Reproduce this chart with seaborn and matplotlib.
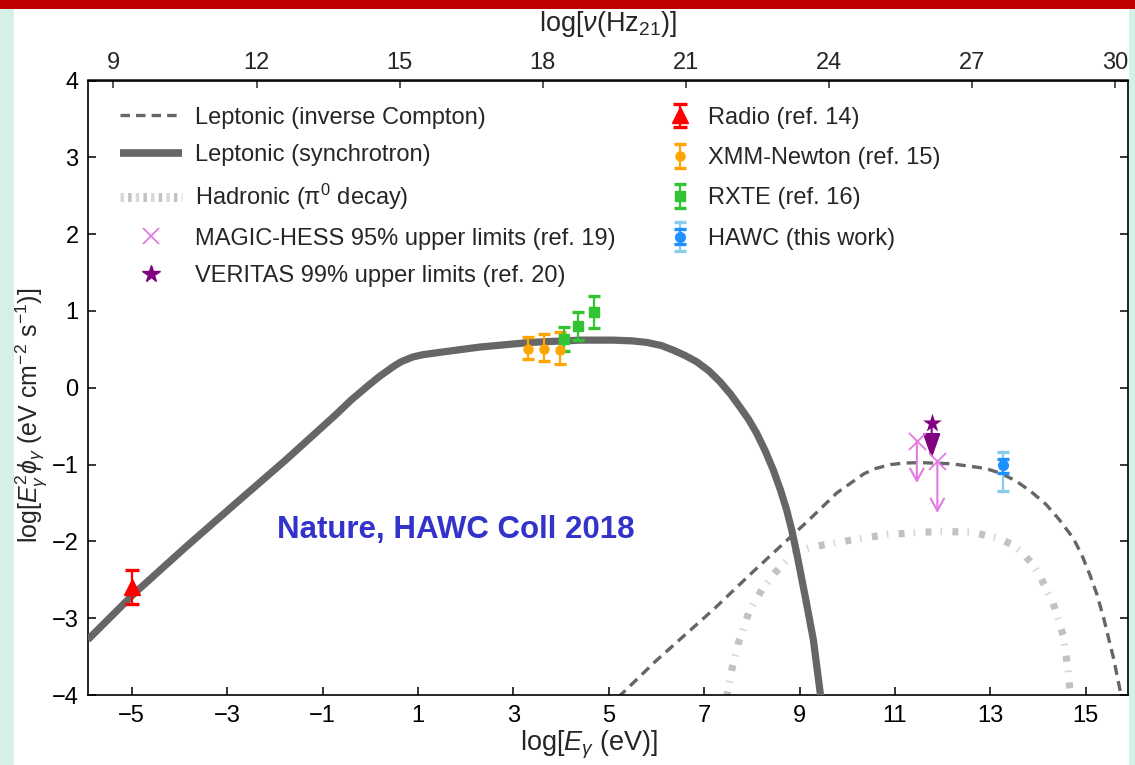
import numpy as np
import pandas as pd
import matplotlib
matplotlib.use("Agg")
import matplotlib.pyplot as plt
import seaborn as sns
from matplotlib.patches import Rectangle
from matplotlib.lines import Line2D
from matplotlib.legend_handler import HandlerTuple, HandlerErrorbar

# ---------------- data ----------------
syn_x = [-5.92, -4.95, -3.86, -2.81, -1.77, -0.72, -0.40, -0.02, 0.20, 0.47, 0.65, 0.89,
         1.10, 1.45, 2.30, 3.35, 4.40, 5.10, 5.50, 5.80, 6.10, 6.35, 6.60, 6.84, 7.10,
         7.33, 7.55, 7.75, 7.93, 8.10, 8.28, 8.45, 8.60, 8.73, 8.84, 8.94, 9.12, 9.29, 9.45]
syn_y = [-3.28, -2.68, -2.07, -1.50, -0.94, -0.35, -0.16, 0.04, 0.15, 0.27, 0.34, 0.40,
         0.43, 0.46, 0.53, 0.59, 0.62, 0.62, 0.61, 0.59, 0.55, 0.49, 0.42, 0.34, 0.22,
         0.08, -0.08, -0.25, -0.41, -0.59, -0.82, -1.07, -1.33, -1.59, -1.86, -2.15,
         -2.72, -3.28, -4.05]

ic_x = [5.20, 6.00, 7.19, 8.00, 8.59, 9.20, 9.78, 10.35, 10.60, 10.91, 11.20, 11.55,
        12.19, 12.90, 13.20, 13.53, 13.85, 14.17, 14.45, 14.74, 14.92, 15.09, 15.24,
        15.38, 15.59, 15.75]
ic_y = [-4.03, -3.55, -2.89, -2.41, -2.07, -1.72, -1.37, -1.12, -1.05, -1.00, -0.98,
        -0.975, -0.99, -1.05, -1.11, -1.21, -1.35, -1.52, -1.72, -1.96, -2.18, -2.44,
        -2.70, -3.01, -3.54, -4.03]

had_x = [7.47, 7.58, 7.72, 7.94, 8.22, 8.50, 8.79, 9.00, 9.21, 9.92, 10.84, 11.91,
         12.61, 13.18, 13.45, 13.68, 13.90, 14.03, 14.31, 14.53, 14.63, 14.68]
had_y = [-4.03, -3.67, -3.32, -2.92, -2.62, -2.40, -2.20, -2.13, -2.08, -2.00, -1.91,
         -1.87, -1.88, -1.96, -2.04, -2.15, -2.31, -2.44, -2.79, -3.23, -3.67, -4.03]

radio_x = [-5.0]
radio_y = [-2.59]
radio_lo = [-2.82]
radio_hi = [-2.37]

xmm_x = [3.30, 3.65, 3.98]
xmm_y = [0.50, 0.50, 0.49]
xmm_lo = [0.38, 0.35, 0.31]
xmm_hi = [0.665, 0.70, 0.73]

rxte_x = [4.07, 4.36, 4.70]
rxte_y = [0.635, 0.81, 0.98]
rxte_lo = [0.48, 0.62, 0.775]
rxte_hi = [0.79, 0.99, 1.20]

hawc_x = [13.26]
hawc_y = [-1.01]
hawc_stat_lo = [-1.11]
hawc_stat_hi = [-0.93]
hawc_sys_lo = [-1.35]
hawc_sys_hi = [-0.83]

magic_x = [11.46, 11.89]
magic_y = [-0.69, -0.95]
magic_end = [-1.24, -1.63]

veritas_x = [11.77]
veritas_y = [-0.46]
veritas_end = [-0.92]

bottom_ticks = [-5, -3, -1, 1, 3, 5, 7, 9, 11, 13, 15]
top_ticks = [9, 12, 15, 18, 21, 24, 27, 30]
y_ticks = [-4, -3, -2, -1, 0, 1, 2, 3, 4]
LOG_NU_OFFSET = 14.383  # log10(nu/Hz) = log10(E/eV) + 14.383

# ---------------- style ----------------
sns.set_theme(style="ticks")
plt.rcParams["font.family"] = ["Liberation Sans", "DejaVu Sans"]
plt.rcParams["mathtext.fontset"] = "custom"
plt.rcParams["mathtext.rm"] = "Liberation Sans"
plt.rcParams["mathtext.it"] = "Liberation Sans:italic"
plt.rcParams["mathtext.bf"] = "Liberation Sans:bold"
plt.rcParams["lines.scale_dashes"] = False
plt.rcParams["axes.unicode_minus"] = True

FS = 17
LFS = 19.5

W, H = 1135, 765
fig = plt.figure(figsize=(W / 100, H / 100), dpi=100)
fig.patch.set_facecolor("#d5f0e6")
fig.add_artist(Rectangle((14 / W, 0), (1129 - 14) / W, 1 - 9 / H,
                         transform=fig.transFigure, facecolor="white",
                         edgecolor="none", zorder=-10))
fig.add_artist(Rectangle((0, 1 - 9 / H), 1, 9 / H, transform=fig.transFigure,
                         facecolor="#c00000", edgecolor="none", zorder=-9))

ax_l, ax_r, ax_t, ax_b = 88.3, 1127.7, 80.5, 695.0
ax = fig.add_axes([ax_l / W, 1 - ax_b / H, (ax_r - ax_l) / W, (ax_b - ax_t) / H])
ax.set_facecolor("white")

# ---------------- model curves ----------------
GRAY = "#666666"
HAD_DARK = "#c2c2c2"
HAD_LIGHT = "#d8d8d8"
sns.lineplot(x=syn_x, y=syn_y, ax=ax, color=GRAY, lw=5.2, sort=False,
             solid_capstyle="butt", solid_joinstyle="round", zorder=3)
sns.lineplot(x=ic_x, y=ic_y, ax=ax, color=GRAY, lw=2.4, sort=False,
             linestyle=(0, (7.2, 4.6)), zorder=2)
# hadronic: thick light-gray blocks with thin ticks in between
sns.lineplot(x=had_x, y=had_y, ax=ax, color=HAD_DARK, lw=5.2, sort=False,
             linestyle=(0, (4.3, 15.1)), zorder=2)
sns.lineplot(x=had_x, y=had_y, ax=ax, color=HAD_LIGHT, lw=5.2, sort=False,
             linestyle=(8.6, (1.2, 18.2)), zorder=2)

# ---------------- data points ----------------
def asym(y, lo, hi):
    y = np.asarray(y); return [y - np.asarray(lo), np.asarray(hi) - y]

eb_kw = dict(linestyle="none", elinewidth=1.6, capthick=2.4, zorder=5)
radio = ax.errorbar(radio_x, radio_y, yerr=asym(radio_y, radio_lo, radio_hi),
                    fmt="^", color="#ff0000", ms=11, capsize=5, **eb_kw)
xmm = ax.errorbar(xmm_x, xmm_y, yerr=asym(xmm_y, xmm_lo, xmm_hi),
                  fmt="o", color="#ffa500", ms=6.5, capsize=4.3, **eb_kw)
rxte = ax.errorbar(rxte_x, rxte_y, yerr=asym(rxte_y, rxte_lo, rxte_hi),
                   fmt="s", color="#33c433", ms=7.5, capsize=4.3, **eb_kw)
hawc_sys = ax.errorbar(hawc_x, hawc_y, yerr=asym(hawc_y, hawc_sys_lo, hawc_sys_hi),
                       fmt="none", ecolor="#87ceeb", capsize=4.3, **eb_kw)
hawc_stat = ax.errorbar(hawc_x, hawc_y, yerr=asym(hawc_y, hawc_stat_lo, hawc_stat_hi),
                        fmt="o", color="#1e90ff", ms=7, capsize=4.3, **eb_kw)

MAGIC_C = "#e27ae2"
VER_C = "#800080"
for x0, y0, y1 in zip(magic_x, magic_y, magic_end):
    ax.annotate("", xy=(x0, y1), xytext=(x0, y0),
                arrowprops=dict(arrowstyle="->,head_length=0.55,head_width=0.3",
                                color=MAGIC_C, lw=1.5, mutation_scale=16,
                                shrinkA=0, shrinkB=0), zorder=6)
for x0, y0, y1 in zip(veritas_x, veritas_y, veritas_end):
    ax.annotate("", xy=(x0, y1), xytext=(x0, y0),
                arrowprops=dict(arrowstyle="-|>,head_length=0.9,head_width=0.32",
                                color=VER_C, lw=1.5, mutation_scale=17,
                                shrinkA=0, shrinkB=0), zorder=6)
sns.scatterplot(x=magic_x, y=magic_y, ax=ax, marker="x", s=150, color=MAGIC_C,
                linewidth=1.3, zorder=7)
sns.scatterplot(x=veritas_x, y=veritas_y, ax=ax, marker="*", s=200, color=VER_C,
                linewidth=0, zorder=7)

# ---------------- text annotation ----------------
ax.text(1.80, -1.85, "Nature, HAWC Coll 2018", color="#3333cc", fontsize=22.5,
        fontweight="bold", ha="center", va="center", zorder=8)

# ---------------- axes ----------------
ax.set_xlim(-5.91, 15.88)
ax.set_ylim(-4, 4)
ax.set_xticks(bottom_ticks)
ax.set_yticks(y_ticks)
ax.tick_params(axis="both", which="major", direction="in", length=6, width=1.1,
               labelsize=FS, colors="black")
ax.tick_params(axis="x", pad=7, top=False)
ax.tick_params(axis="y", pad=7, right=True)
for s in ax.spines.values():
    s.set_visible(True)
    s.set_linewidth(1.2)
    s.set_color("black")

ax.set_xlabel(r"log[$E_\gamma$ (eV)]", fontsize=LFS, labelpad=4)
ax.xaxis.set_label_coords((589 - ax_l) / (ax_r - ax_l), -0.055)
ax.set_ylabel(r"log[$E_\gamma^2\phi_\gamma$ (eV cm$^{-2}$ s$^{-1}$)]", fontsize=18)
ax.yaxis.set_label_coords((49 - ax_l) / (ax_r - ax_l), (ax_b - 415) / (ax_b - ax_t))

sec = ax.secondary_xaxis("top", functions=(lambda e: e + LOG_NU_OFFSET,
                                           lambda n: n - LOG_NU_OFFSET))
sec.set_xticks(top_ticks)
sec.tick_params(direction="in", length=6, width=1.1, labelsize=FS, pad=5)
sec.set_xlabel(r"log[$\nu$(Hz$_{21}$)]", fontsize=LFS, labelpad=15)
sec.spines["top"].set_linewidth(1.2)

# ---------------- legends ----------------
h_ic = Line2D([], [], color=GRAY, lw=2.4, linestyle=(0, (6.8, 4.4)))
h_syn = Line2D([], [], color=GRAY, lw=5.5, solid_capstyle="butt")
h_had = (Line2D([], [], color=HAD_LIGHT, lw=6.5, linestyle=(0, (2.5, 8.5))),
         Line2D([], [], color=HAD_DARK, lw=6.5, linestyle=(-5.5, (2.5, 8.5))))
h_magic = Line2D([], [], color=MAGIC_C, marker="x", linestyle="none", ms=11, mew=1.3)
h_ver = Line2D([], [], color=VER_C, marker="*", linestyle="none", ms=13)

leg_y = 0.9575
leg1 = ax.legend([h_ic, h_syn, h_had, h_magic, h_ver],
                 ["Leptonic (inverse Compton)", "Leptonic (synchrotron)",
                  "Hadronic (π$^0$ decay)", "MAGIC-HESS 95% upper limits (ref. 19)",
                  "VERITAS 99% upper limits (ref. 20)"],
                 handler_map={tuple: HandlerTuple(ndivide=1)},
                 loc="upper left", bbox_to_anchor=(0.0305, leg_y), frameon=False,
                 fontsize=FS, handlelength=2.63, handletextpad=0.55,
                 labelspacing=0.66, borderpad=0, borderaxespad=0)
ax.add_artist(leg1)
ax.legend([radio, xmm, rxte, (hawc_sys, hawc_stat)],
          ["Radio (ref. 14)", "XMM-Newton (ref. 15)", "RXTE (ref. 16)",
           "HAWC (this work)"],
          handler_map={tuple: HandlerTuple(ndivide=1),
                       hawc_sys: HandlerErrorbar(yerr_size=0.62),
                       hawc_stat: HandlerErrorbar(yerr_size=0.32)},
          loc="upper left", bbox_to_anchor=(0.555, leg_y), frameon=False,
          fontsize=FS, handlelength=1.27, handletextpad=0.55,
          labelspacing=0.78, borderpad=0, borderaxespad=0)

fig.savefig("out.png", dpi=100, facecolor=fig.get_facecolor())
